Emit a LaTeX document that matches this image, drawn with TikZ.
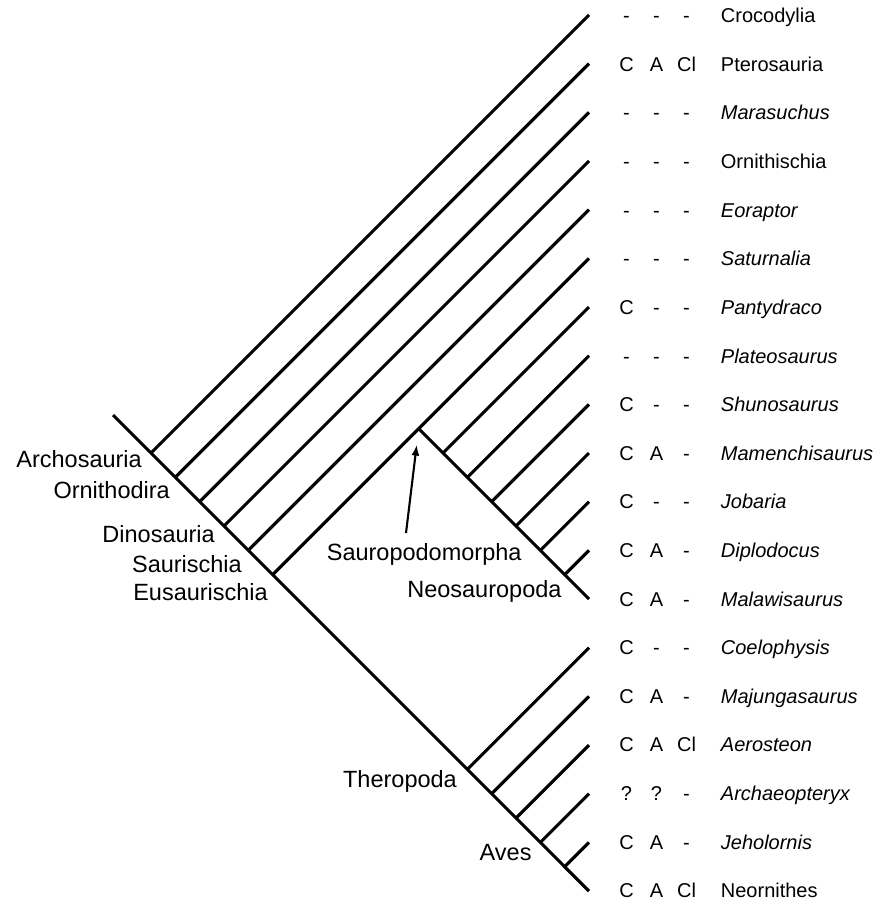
\documentclass[tikz,border=0pt]{standalone}
\usepackage{fontspec}
\setmainfont{Liberation Sans}
\usetikzlibrary{arrows.meta,calc}
\tikzset{
  branch/.style={line width=3.1pt},
  taxon/.style={anchor=base west, inner sep=0pt, font=\fontsize{20}{24}\selectfont},
  score/.style={anchor=base, inner sep=0pt, font=\fontsize{20}{24}\selectfont},
  clade/.style={anchor=base east, inner sep=0pt, font=\fontsize{23.5}{28}\selectfont},
  pointer/.style={line width=2.1pt, -{Latex[length=11pt,width=8pt]}, shorten >=16pt},
}
\begin{document}
\begin{tikzpicture}[x=1pt,y=-1pt]
\useasboundingbox (0,0) rectangle (877,901);
\def\dy{48.67}
% tips
\foreach \i in {0,...,18}{
  \pgfmathsetmacro\ty{15+\dy*\i}
  \coordinate (t\i) at (589,\ty);
}
\coordinate (root) at (113,415);
% junctions on the main trunk (y = x + 302)
\foreach \i in {0,1,2,3,4,5,13,14,15,16,17}{
  \pgfmathsetmacro\jx{(15+\dy*\i+287)/2}
  \coordinate (j\i) at ({\jx},{\jx+302});
}
% junctions on the sauropodomorph line (y = x + c)
\pgfmathsetmacro\cc{15+\dy*12-589}
\foreach \i in {5,6,7,8,9,10,11}{
  \pgfmathsetmacro\sx{(15+\dy*\i+589-\cc)/2}
  \coordinate (s\i) at ({\sx},{\sx+\cc});
}
% branches
\draw[branch] (root) -- (t18);
\foreach \i in {0,1,2,3,4,5,13,14,15,16,17} \draw[branch] (j\i) -- (t\i);
\draw[branch] (s5) -- (t12);
\foreach \i in {6,7,8,9,10,11} \draw[branch] (s\i) -- (t\i);
% arrow to Sauropodomorpha node
\coordinate (sptail) at (406,533);
\draw[pointer] (sptail) -- (s5);
% clade labels
\node[clade] (archo) at (142,467) {Archosauria};
\node[clade] (ornd) at (170,498) {Ornithodira};
\node[clade] (dino) at (215,542) {Dinosauria};
\node[clade] (saur) at (242,572) {Saurischia};
\node[clade] (eusa) at (268,600) {Eusaurischia};
\node[clade] (sauro) at (521.7,560) {Sauropodomorpha};
\node[clade] (neos) at (561.7,597) {Neosauropoda};
\node[clade] (thero) at (457,787) {Theropoda};
\node[clade] (aves) at (531.7,860) {Aves};
% taxa and scores
\foreach \i/\a/\b/\c/\nm in {
  0/-/-/-/Crocodylia,
  1/C/A/Cl/Pterosauria,
  2/-/-/-/\textit{Marasuchus},
  3/-/-/-/Ornithischia,
  4/-/-/-/\textit{Eoraptor},
  5/-/-/-/\textit{Saturnalia},
  6/C/-/-/\textit{Pantydraco},
  7/-/-/-/\textit{Plateosaurus},
  8/C/-/-/\textit{Shunosaurus},
  9/C/A/-/\textit{Mamenchisaurus},
  10/C/-/-/\textit{Jobaria},
  11/C/A/-/\textit{Diplodocus},
  12/C/A/-/\textit{Malawisaurus},
  13/C/-/-/\textit{Coelophysis},
  14/C/A/-/\textit{Majungasaurus},
  15/C/A/Cl/\textit{Aerosteon},
  16/?/?/-/\textit{Archaeopteryx},
  17/C/A/-/\textit{Jeholornis},
  18/C/A/Cl/Neornithes}{
  \pgfmathsetmacro\by{22.8+48.6*\i}
  \node[score] (ca\i) at (626.5,\by) {\a};
  \node[score] (cb\i) at (656.5,\by) {\b};
  \node[score] (cc\i) at (686.5,\by) {\c};
  \node[taxon] (n\i) at (720.7,\by) {\nm};
}
\end{tikzpicture}
\end{document}
